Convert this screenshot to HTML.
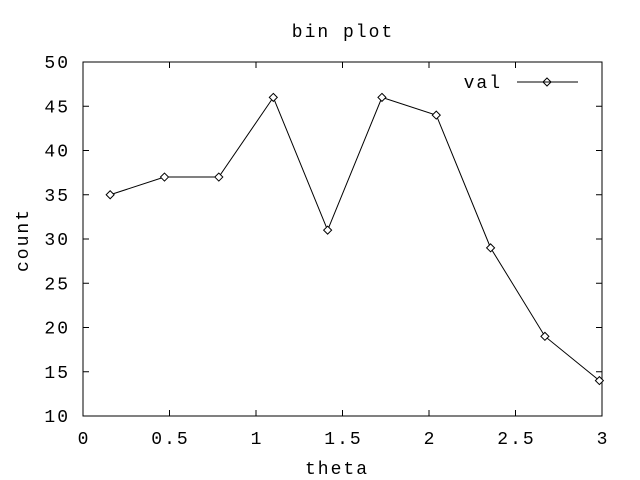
<!DOCTYPE html>
<html><head><meta charset="utf-8"><style>
html,body{margin:0;padding:0;background:#fff;}
svg{display:block;}
text{font-family:"Liberation Mono","DejaVu Sans Mono",monospace;font-size:18px;letter-spacing:2px;fill:#000;}
</style></head><body>
<svg id="chart" width="640" height="480">
<rect x="83" y="62" width="519" height="354" fill="none" stroke="#000" stroke-width="1"/>
<text x="343" y="37" text-anchor="middle">bin plot</text>
<text x="337" y="474" text-anchor="middle">theta</text>
<text x="28" y="240" text-anchor="middle" transform="rotate(-90 28 240)">count</text>
<g id="ticks"></g>
<g id="series"></g>
<g>
<text x="502" y="88" text-anchor="end">val</text>
<line x1="517" y1="82" x2="578" y2="82" stroke="#000"/>
<path d="M547 78 L551 82 L547 86 L543 82 Z" fill="none" stroke="#000"/>
</g>
</svg>
<script>
const xValues=[0.157,0.471,0.785,1.100,1.414,1.728,2.042,2.356,2.670,2.985];
const counts=[35,37,37,46,31,46,44,29,19,14];
const xTicks=[0,0.5,1,1.5,2,2.5,3];
const xTickLabels=["0","0.5","1","1.5","2","2.5","3"];
const yTicks=[10,15,20,25,30,35,40,45,50];
const yTickLabels=["10","15","20","25","30","35","40","45","50"];

const L=83,R=602,T=62,B=416;
function sx(v){return L+(v-0)/(3-0)*(R-L);}
function sy(v){return B-(v-10)/(50-10)*(B-T);}
const NS="http://www.w3.org/2000/svg";
const tg=document.getElementById('ticks');
const sg=document.getElementById('series');
function mk(tag,attrs,parent){const e=document.createElementNS(NS,tag);for(const k in attrs)e.setAttribute(k,attrs[k]);parent.appendChild(e);return e;}

xTicks.forEach((v,i)=>{
  const x=sx(v);
  const t1=mk('line',{x1:x,y1:B,x2:x,y2:B-6,stroke:'#000'},tg);
  
  
  const t2=mk('line',{x1:x,y1:T,x2:x,y2:T+6,stroke:'#000'},tg);
  
  
  const lb=mk('text',{x:x+1,y:444,'text-anchor':'middle'},tg);
  lb.textContent=xTickLabels[i];
  
  
});
yTicks.forEach((v,i)=>{
  const y=sy(v);
  const t1=mk('line',{x1:L,y1:y,x2:L+6,y2:y,stroke:'#000'},tg);
  
  
  const t2=mk('line',{x1:R,y1:y,x2:R-6,y2:y,stroke:'#000'},tg);
  
  
  const lb=mk('text',{x:70,y:y+6,'text-anchor':'end'},tg);
  lb.textContent=yTickLabels[i];
  
  
});
const pts=xValues.map((v,i)=>sx(v)+','+sy(counts[i])).join(' ');
const line=mk('polyline',{points:pts,fill:'none',stroke:'#000'},sg);


xValues.forEach((v,i)=>{
  const x=sx(v),y=sy(counts[i]);
  const p=mk('path',{d:`M${x} ${y-4} L${x+4} ${y} L${x} ${y+4} L${x-4} ${y} Z`,fill:'#fff',stroke:'#000'},sg);
  
  
});
</script>
</body></html>
